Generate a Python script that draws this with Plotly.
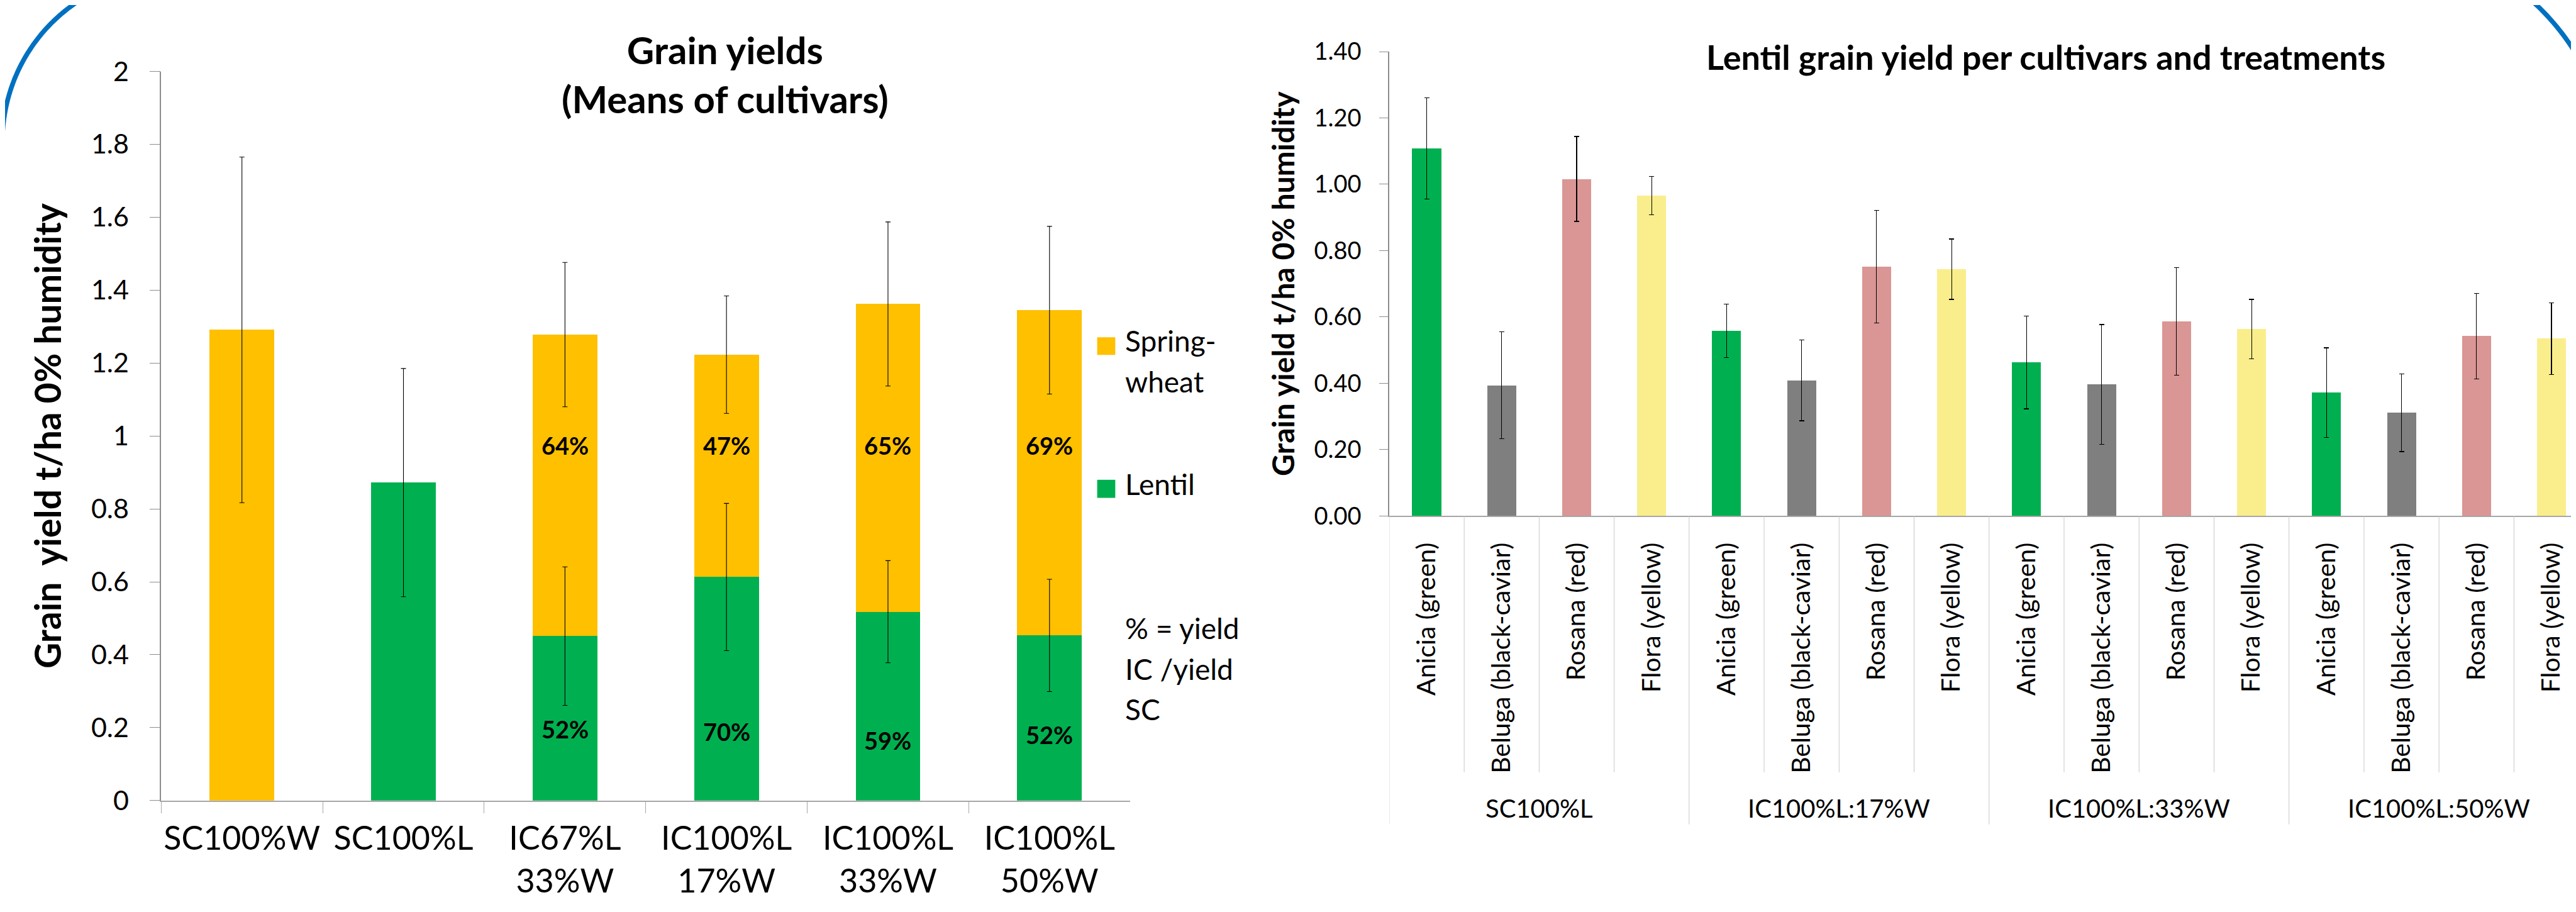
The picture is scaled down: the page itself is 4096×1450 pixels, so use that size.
import numpy as np
import plotly.graph_objects as go

# ---------------- Data: left chart (means of cultivars) ----------------
treatments = ["SC100%W", "SC100%L", "IC67%L<br>33%W", "IC100%L<br>17%W",
              "IC100%L<br>33%W", "IC100%L<br>50%W"]
lentil_yield = [None, 0.872, 0.451, 0.613, 0.518, 0.453]
wheat_yield = [1.291, None, 0.827, 0.610, 0.844, 0.892]
lentil_err = [None, 0.313, 0.190, 0.202, 0.140, 0.154]
total_err = [0.474, None, 0.198, 0.161, 0.225, 0.230]
wheat_pct = [None, None, "64%", "47%", "65%", "69%"]
lentil_pct = [None, None, "52%", "70%", "59%", "52%"]

# ---------------- Data: right chart (per cultivar and treatment) ----------------
groups = ["SC100%L", "IC100%L:17%W", "IC100%L:33%W", "IC100%L:50%W"]
cultivars = ["Anicia (green)", "Beluga (black-caviar)", "Rosana (red)", "Flora (yellow)"]
yield_sc = [1.108, 0.394, 1.016, 0.966]
yield_17 = [0.558, 0.409, 0.751, 0.744]
yield_33 = [0.463, 0.396, 0.586, 0.563]
yield_50 = [0.372, 0.311, 0.542, 0.535]
err_sc = [0.153, 0.161, 0.128, 0.058]
err_17 = [0.081, 0.122, 0.170, 0.091]
err_33 = [0.140, 0.181, 0.162, 0.090]
err_50 = [0.135, 0.117, 0.129, 0.108]

# ---------------- Styling / geometry ----------------
W, H = 4096, 1450
RW, RH = 5840, 2067          # reference size
S = W / RW                    # 0.701


def fx(px):
    return px / RW


def fy(py):
    return 1 - py / RH


FONT = "Lato, 'Open Sans', 'DejaVu Sans', sans-serif"
C_LENTIL = "#00B050"
C_WHEAT = "#FFC000"
CULT_COLORS = ["#00B050", "#7F7F7F", "#D99694", "#FAEE8C"]
AX_GRAY = "#8C8C8C"
LINE_GRAY = "#A6A6A6"
DIV_GRAY = "#C8C8C8"

fig = go.Figure()

# ---------------- Left chart traces ----------------
totals = [(l or 0) + (w or 0) for l, w in zip(lentil_yield, wheat_yield)]

fig.add_trace(go.Bar(x=treatments, y=lentil_yield, name="Lentil",
                     marker=dict(color=C_LENTIL, line=dict(width=0)),
                     xaxis="x", yaxis="y", showlegend=False))
fig.add_trace(go.Bar(x=treatments, y=wheat_yield, name="Spring-wheat",
                     marker=dict(color=C_WHEAT, line=dict(width=0)),
                     xaxis="x", yaxis="y", showlegend=False))
# error bars drawn above both stacked segments
fig.add_trace(go.Scatter(x=treatments, y=lentil_yield, mode="markers",
                         marker=dict(size=1, opacity=0),
                         error_y=dict(type="data", array=lentil_err, visible=True,
                                      color="black", thickness=1.1, width=4),
                         xaxis="x", yaxis="y", showlegend=False, hoverinfo="skip"))
fig.add_trace(go.Scatter(x=treatments, y=[t if e is not None else None for t, e in zip(totals, total_err)],
                         mode="markers", marker=dict(size=1, opacity=0),
                         error_y=dict(type="data", array=total_err, visible=True,
                                      color="black", thickness=1.1, width=4),
                         xaxis="x", yaxis="y", showlegend=False, hoverinfo="skip"))

# ---------------- Right chart trace ----------------
yield_table = [yield_sc, yield_17, yield_33, yield_50]
err_table = [err_sc, err_17, err_33, err_50]
pos, vals, errs, cols, tick_txt, hov = [], [], [], [], [], []
k = 0
for g, ys, es in zip(groups, yield_table, err_table):
    for ci, (c, yv, ev) in enumerate(zip(cultivars, ys, es)):
        pos.append(k)
        vals.append(yv)
        errs.append(ev)
        cols.append(CULT_COLORS[ci])
        tick_txt.append(c)
        hov.append(f"{g} – {c}")
        k += 1
n_per = len(cultivars)

fig.add_trace(go.Bar(x=pos, y=vals, width=0.386, hovertext=hov,
                     marker=dict(color=cols, line=dict(width=0)),
                     error_y=dict(type="data", array=errs, visible=True,
                                  color="black", thickness=1.1, width=4),
                     xaxis="x2", yaxis="y2", showlegend=False))

# ---------------- Axes ----------------
xr2_max = (RW - 3138) / 170 - 0.5

fig.update_layout(
    width=W, height=H, template="none",
    margin=dict(l=0, r=0, t=0, b=0, pad=0),
    paper_bgcolor="white", plot_bgcolor="rgba(0,0,0,0)",
    font=dict(family=FONT, color="black"),
    barmode="stack", bargap=0.6,
    showlegend=False,
    xaxis=dict(domain=[fx(354), fx(2551)], anchor="y", type="category",
               range=[-0.5, 5.5], showgrid=False, zeroline=False,
               showline=True, linecolor=LINE_GRAY, linewidth=1.6,
               ticks="outside", tickson="boundaries", ticklen=18,
               tickcolor=LINE_GRAY, tickwidth=1, tickangle=0,
               tickfont=dict(family=FONT, size=52, color="black"),
               ticklabelstandoff=14, automargin=False, fixedrange=True),
    yaxis=dict(domain=[fy(1803), fy(150.4)], anchor="x", range=[0, 2],
               tick0=0, dtick=0.2, showgrid=False, zeroline=False,
               showline=True, linecolor=AX_GRAY, linewidth=1.5,
               ticks="outside", ticklen=17, tickcolor=AX_GRAY, tickwidth=1.2,
               tickfont=dict(family=FONT, size=43, color="black"),
               ticklabelstandoff=24, automargin=False, fixedrange=True,
               title=dict(text="<b>Grain\u00a0 yield t/ha 0% humidity</b>",
                          font=dict(family=FONT, size=57, color="black"),
                          standoff=29)),
    xaxis2=dict(domain=[fx(3138), 1.0], anchor="y2", type="linear",
                range=[-0.5, xr2_max], showgrid=False, zeroline=False,
                showline=True, linecolor=LINE_GRAY, linewidth=1.6,
                tickmode="array", tickvals=pos, ticktext=tick_txt,
                tickangle=-90, ticks="",
                tickfont=dict(family=FONT, size=41, color="black"),
                ticklabelstandoff=24, automargin=False, fixedrange=True),
    yaxis2=dict(domain=[fy(1158), fy(105.5)], anchor="x2", range=[0, 1.4],
                tick0=0, dtick=0.2, tickformat=".2f", showgrid=False,
                zeroline=False, showline=True, linecolor=AX_GRAY, linewidth=1.5,
                ticks="outside", ticklen=14, tickcolor=AX_GRAY, tickwidth=1.2,
                tickfont=dict(family=FONT, size=38, color="black"),
                ticklabelstandoff=21, automargin=False, fixedrange=True,
                title=dict(text="<b>Grain yield t/ha 0% humidity</b>",
                           font=dict(family=FONT, size=48, color="black"),
                           standoff=16)),
)

# ---------------- Shapes ----------------
shapes = []

# category dividers below the right x axis
axis_y = fy(1158)
inner_bottom = fy(1739)
group_bottom = fy(1857)
for b in range(len(pos) + 1):
    xb = b - 0.5
    if xb > xr2_max:
        continue
    is_group = (b % n_per == 0)
    shapes.append(dict(type="line", xref="x2", yref="paper",
                       x0=xb, x1=xb, y0=axis_y,
                       y1=group_bottom if is_group else inner_bottom,
                       line=dict(color=DIV_GRAY, width=1)))


# decorative blue arcs of the slide frame
def arc_path(cx, cy, r, a0, a1, n=120):
    a = np.radians(np.linspace(a0, a1, n))
    xs = cx + r * np.cos(a)
    ys = cy + r * np.sin(a)
    pts = [f"{fx(x):.5f},{fy(y):.5f}" for x, y in zip(xs, ys)]
    return "M" + " L".join(pts)


shapes.append(dict(type="path", xref="paper", yref="paper",
                   path=arc_path(375, 310, 381, 180, 275),
                   line=dict(color="#0070C0", width=7.5)))
shapes.append(dict(type="path", xref="paper", yref="paper",
                   path=arc_path(5370, 390, 537, 265, 360),
                   line=dict(color="#0070C0", width=7.5)))

# custom legend swatches (left chart)
shapes.append(dict(type="rect", xref="paper", yref="paper",
                   x0=fx(2476), x1=fx(2517), y0=fy(793), y1=fy(753),
                   fillcolor=C_WHEAT, line=dict(width=0)))
shapes.append(dict(type="rect", xref="paper", yref="paper",
                   x0=fx(2476), x1=fx(2517), y0=fy(1117), y1=fy(1076),
                   fillcolor=C_LENTIL, line=dict(width=0)))

fig.update_layout(shapes=shapes)

# ---------------- Annotations ----------------
ann = []

# chart titles
ann.append(dict(text="<b>Grain yields<br>(Means of cultivars)</b>", xref="paper", yref="paper",
                x=fx(1632), y=fy(157), xanchor="center", yanchor="middle",
                showarrow=False, font=dict(family=FONT, size=60, color="black")))
ann.append(dict(text="<b>Lentil grain yield per cultivars and treatments</b>",
                xref="paper", yref="paper", x=fx(4627), y=fy(117.5),
                xanchor="center", yanchor="middle", showarrow=False,
                font=dict(family=FONT, size=54, color="black")))

# percentage labels inside stacked bars
wheat_label_y = 0.975
lentil_label_y = [None, None, 0.197, 0.189, 0.166, 0.181]
for i, (wp, lp) in enumerate(zip(wheat_pct, lentil_pct)):
    if wp:
        ann.append(dict(text=f"<b>{wp}</b>", xref="x", yref="y", x=i, y=wheat_label_y,
                        showarrow=False, xanchor="center", yanchor="middle",
                        font=dict(family=FONT, size=38, color="black")))
    if lp:
        ann.append(dict(text=f"<b>{lp}</b>", xref="x", yref="y", x=i, y=lentil_label_y[i],
                        showarrow=False, xanchor="center", yanchor="middle",
                        font=dict(family=FONT, size=38, color="black")))

# legend texts (left chart)
legend_lines = [("Spring-", 760), ("wheat", 853), ("Lentil", 1085),
                ("% = yield", 1412), ("IC /yield", 1504), ("SC", 1596)]
for txt, yc in legend_lines:
    ann.append(dict(text=txt, xref="paper", yref="paper", x=fx(2536), y=fy(yc),
                    xanchor="left", yanchor="middle", showarrow=False,
                    font=dict(family=FONT, size=46, color="black")))

# group labels under the right chart
for gi, g in enumerate(groups):
    center = float(np.mean(pos[gi * n_per:(gi + 1) * n_per]))
    ann.append(dict(text=g, xref="x2", yref="paper", x=center, y=fy(1821),
                    xanchor="center", yanchor="middle", showarrow=False,
                    font=dict(family=FONT, size=40, color="black")))

fig.update_layout(annotations=ann)

fig.write_html("out.html")
